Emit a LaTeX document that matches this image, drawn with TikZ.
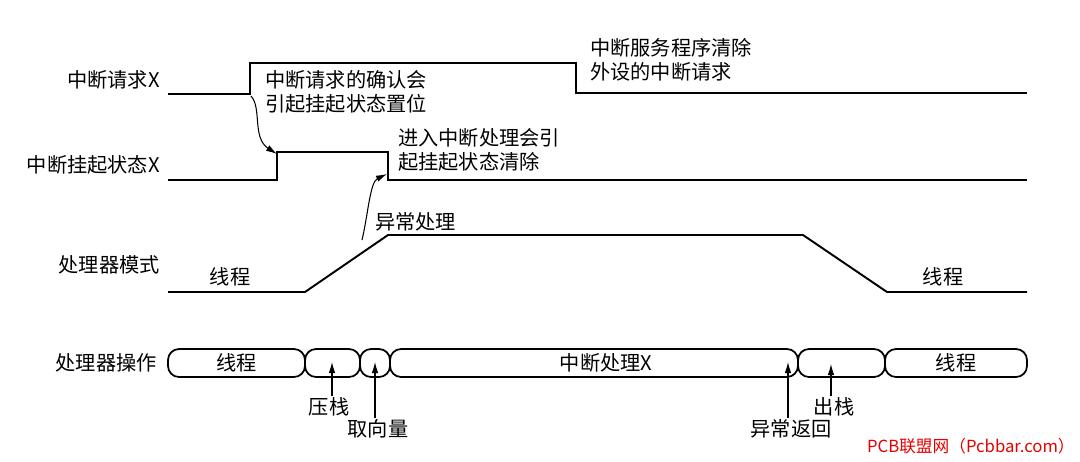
\documentclass[tikz,border=0pt]{standalone}
\usepackage{fontspec}
\setmainfont{Noto Sans CJK SC}
\usetikzlibrary{arrows.meta,positioning}

\begin{document}
\begin{tikzpicture}[
    x=0.02cm, y=-0.02cm,
    font=\fontsize{11.5}{13.5}\selectfont,
    >=Latex,
    wave/.style={line width=1.1pt, line join=miter},
    sig/.style={anchor=east, inner sep=0pt},
    note/.style={align=left, anchor=west, inner sep=0pt},
    seg/.style={draw, line width=1pt, rounded corners=2.2mm, minimum height=5.6mm, inner sep=0pt},
    lbl/.style={inner sep=1pt},
    arrow/.style={-{Latex[length=2.2mm,width=1.3mm]}, line width=0.6pt}
]
\useasboundingbox (0,0) rectangle (1080,461);

% signal names
\node[sig] (req) at (160,80) {中断请求X};
\node[sig] (pend) at (160,165) {中断挂起状态X};
\node[sig] (mode) at (160,265) {处理器模式};
\node[sig] (oper) at (157,363) {处理器操作};

% waveforms
\draw[wave] (168,94) -- (250,94) -- (250,63) -- (576,63) -- (576,93) -- (1027,93);
\draw[wave] (168,180) -- (277,180) -- (277,152) -- (388,152) -- (388,180) -- (1027,180);
\draw[wave] (168,292) -- (305,292) -- (388,235) -- (803,235) -- (887,292) -- (1027,292);

% notes
\node[note] (ack) at (265,92) {中断请求的确认会\\引起挂起状态置位};
\node[note] (clr) at (590,60) {中断服务程序清除\\外设的中断请求};
\node[note] (enter) at (398,150) {进入中断处理会引\\起挂起状态清除};
\node[note] (exc) at (375,222) {异常处理};
\node (thr1) at (230,277) {线程};
\node (thr2) at (943,277) {线程};

% curved arrows
\coordinate (ackfrom) at (251,96);
\coordinate (ackto) at (277,154);
\coordinate (excfrom) at (362,240);
\coordinate (excto) at (387,174);
\draw[arrow] (ackfrom) .. controls (262,108) and (252,138) .. (ackto);
\draw[arrow] (excfrom) .. controls (368,215) and (370,182) .. (excto);

% processor operation bar
\node[seg, minimum width=2.74cm] (s1) at (236.5,363) {线程};
\node[seg, minimum width=1.10cm] (s2) at (332.5,363) {};
\node[seg, minimum width=0.60cm] (s3) at (375,363) {};
\node[seg, minimum width=8.16cm] (s4) at (594,363) {\hspace{1.2em}中断处理X};
\node[seg, minimum width=1.74cm] (s5) at (841.5,363) {};
\node[seg, minimum width=2.84cm] (s6) at (956,363) {线程};

% event labels
\node[lbl] (push) at (329,407) {压栈};
\node[lbl] (vec) at (378,429) {取向量};
\node[lbl] (ret) at (791,429) {异常返回};
\node[lbl] (pop) at (834,407) {出栈};
\coordinate (pushpt) at (332,362);
\coordinate (vecpt) at (375,362);
\coordinate (retpt) at (788,362);
\coordinate (poppt) at (831,364);
\draw[arrow] (push.north -| pushpt) -- (pushpt);
\draw[arrow] (vec.north -| vecpt) -- (vecpt);
\draw[arrow] (ret.north -| retpt) -- (retpt);
\draw[arrow] (pop.north -| poppt) -- (poppt);

\node[anchor=east, inner sep=0pt, text={rgb,255:red,230;green,0;blue,0}, font=\fontsize{9.5}{11}\selectfont] (mark) at (1075,446) {PCB联盟网（Pcbbar.com）};
\end{tikzpicture}
\end{document}
